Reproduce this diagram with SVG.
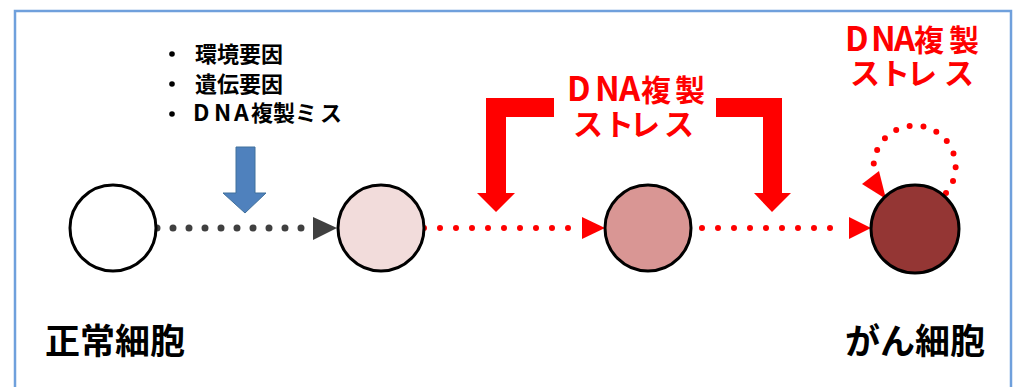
<svg xmlns="http://www.w3.org/2000/svg" width="1026" height="387" viewBox="0 0 1026 387">
<defs>
<style>
.node{stroke:#000;stroke-width:3}
.t{font-family:"Noto Sans CJK JP","Noto Sans CJK SC",sans-serif;font-weight:bold}
.red{fill:#ff0000}
.dotg{fill:none;stroke:#404040;stroke-width:7;stroke-linecap:round;stroke-dasharray:0 16}
.dotr{fill:none;stroke:#ff0000;stroke-width:6;stroke-linecap:round;stroke-dasharray:0 16}
</style>
</defs>
<rect width="1026" height="387" fill="#fff"/>
<rect x="15" y="11" width="996" height="400" fill="none" stroke="#6fa0dc" stroke-width="2.5"/>
<g id="factors">
<circle cx="172" cy="54" r="2.8" fill="#000"/>
<circle cx="172" cy="84" r="2.8" fill="#000"/>
<circle cx="172" cy="114" r="2.8" fill="#000"/>
<text class="t" font-size="22" fill="#000" x="195" y="62">環境要因</text>
<text class="t" font-size="22" fill="#000" x="195" y="92">遺伝要因</text>
<text class="t" font-size="22" fill="#000" y="121"><tspan x="193 214 234" font-size="23">DNA</tspan><tspan x="251 273 295 310 320">複製ミ ス</tspan></text>
</g>
<g id="blue-arrow">
<polygon points="236,147 255,147 255,193 266,193 245,213 223,193 236,193" fill="#4f81bd" stroke="#41719c" stroke-width="1"/>
</g>
<g id="stress-mid">
<polygon points="554,98 486,98 486,193 477,193 496,212 515,193 506,193 506,117 554,117" fill="#ff0000"/>
<polygon points="716,98 782,98 782,193 791,193 772,212 754,193 763,193 763,117 716,117" fill="#ff0000"/>
<text class="t red" font-size="30" y="101"><tspan x="567 595 619" font-size="33">DNA</tspan><tspan x="641 675">複製</tspan></text>
<text class="t red" font-size="30" x="573 604 630 664" y="135">ストレス</text>
</g>
<g id="stress-right">
<text class="t red" font-size="30" y="51"><tspan x="845 871 894" font-size="33">DNA</tspan><tspan x="914 949">複製</tspan></text>
<text class="t red" font-size="30" x="850 880 907 944" y="84">ストレス</text>
</g>
<g id="connectors">
<line class="dotg" x1="157" y1="228" x2="305" y2="228"/>
<polygon points="313,217 313,240 337,228" fill="#404040"/>
<line class="dotr" x1="424" y1="228" x2="580" y2="228"/>
<polygon points="582,217 582,239 605,228" fill="#ff0000"/>
<line class="dotr" x1="702" y1="228" x2="846" y2="228"/>
<polygon points="849,217 849,239 871,228" fill="#ff0000"/>
<path d="M 946 193 A 41 41 0 1 0 875 177" fill="none" stroke="#ff0000" stroke-width="6" stroke-linecap="round" stroke-dasharray="0 14"/>
<polygon points="862,184 879,171 886,199" fill="#ff0000"/>
</g>
<g id="normal-cell">
<circle class="node" cx="113" cy="228" r="43" fill="#ffffff"/>
</g>
<g id="cell-2">
<circle class="node" cx="381" cy="228" r="43" fill="#f2dcdb"/>
</g>
<g id="cell-3">
<circle class="node" cx="648" cy="228" r="43" fill="#d99694"/>
</g>
<g id="cancer-cell">
<circle class="node" cx="915" cy="229" r="44" fill="#943634"/>
</g>
<g id="labels">
<text class="t" font-size="35" fill="#000" x="45" y="354">正常細胞</text>
<text class="t" font-size="35" fill="#000" x="845" y="354">がん細胞</text>
</g>
</svg>
